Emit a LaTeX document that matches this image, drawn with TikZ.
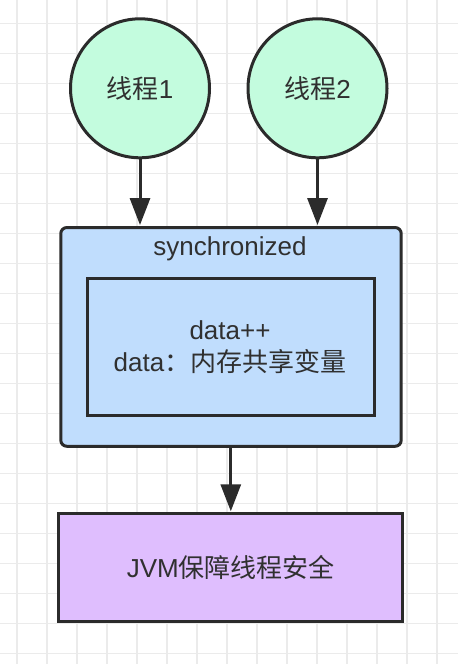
\documentclass[tikz,border=0pt]{standalone}
\usepackage{fontspec}
\setmainfont{Liberation Sans}
\newfontfamily\cjk{Noto Sans CJK SC}
\newcommand\zh[1]{{\cjk #1}}
\usetikzlibrary{arrows.meta}
\definecolor{gridc}{HTML}{EBEBEB}
\definecolor{strokec}{HTML}{2B2B2B}
\definecolor{textc}{HTML}{303030}
\definecolor{greenc}{HTML}{C3FCDE}
\definecolor{bluec}{HTML}{C0DDFD}
\definecolor{purplec}{HTML}{DFBEFE}
\tikzset{
  gridline/.style={draw=gridc, line width=1.6pt},
  base/.style={draw=strokec, line width=3pt, text=textc, font=\fontsize{26pt}{32.5pt}\selectfont, align=center, inner sep=0pt},
  thread/.style={base, circle, fill=greenc, minimum size=139pt},
  syncbox/.style={base, rectangle, rounded corners=6pt, fill=bluec, minimum width=340.4pt, minimum height=218.7pt},
  databox/.style={base, rectangle, fill=bluec, minimum width=287.3pt, minimum height=137.6pt},
  jvmbox/.style={base, rectangle, fill=purplec, minimum width=344pt, minimum height=107.4pt},
  label/.style={text=textc, font=\fontsize{26pt}{32.5pt}\selectfont, inner sep=0pt},
  arr/.style={draw=strokec, line width=3pt, -{Triangle[width=20pt,length=27pt]}, shorten >=1pt}
}
\begin{document}
\begin{tikzpicture}[x=1pt,y=-1pt]
\useasboundingbox (0,0) rectangle (458,664);
\fill[white] (0,0) rectangle (458,664);
\foreach \k in {0,...,14} \draw[gridline] ({16.7+30*\k},0) -- ({16.7+30*\k},664);
\foreach \k in {0,...,21} \draw[gridline] (0,{23.3+30*\k}) -- (458,{23.3+30*\k});

\node[thread] (t1) at (140,88.3) {\zh{线程}1};
\node[thread] (t2) at (317.5,88.3) {\zh{线程}2};
\node[syncbox] (sync) at (231,336.9) {};
\node[label, anchor=base] (synclabel) at (230,255.5) {synchronized};
\node[databox] (data) at (230.9,347) {};
\node[label, anchor=base, align=center] (datalabel) at (230,371.7) {data++\\data\zh{：内存共享变量}};
\node[jvmbox] (jvm) at (230.8,567.5) {JVM\zh{保障线程安全}};

\draw[arr] (t1.south) -- (t1.south |- sync.north);
\draw[arr] (t2.south) -- (t2.south |- sync.north);
\draw[arr] (sync.south -| jvm.north) -- (jvm.north);
\end{tikzpicture}
\end{document}
